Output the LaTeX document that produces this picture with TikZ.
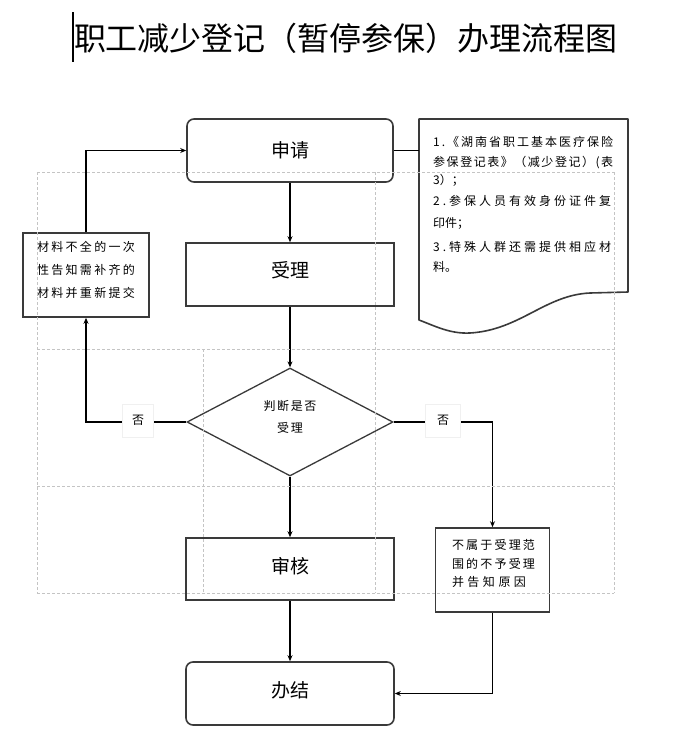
\documentclass[tikz,border=0pt]{standalone}
\usepackage{fontspec}
\setmainfont{Noto Sans CJK SC}
\usetikzlibrary{arrows.meta,shapes.geometric}
\definecolor{boxc}{HTML}{3A3A3A}
\definecolor{gridc}{HTML}{C4C4C4}
\makeatletter
\def\jl@end{\jl@end}
\def\jl@loop#1{\ifx#1\jl@end\else\hfil#1\expandafter\jl@loop\fi}
\def\jl@first#1{#1\jl@loop}
\newcommand\jline[2]{\makebox[#1][s]{\jl@first#2\jl@end}}
\makeatother
\tikzset{
  box/.style={draw=boxc, line width=1.6pt, inner sep=0pt},
  rbox/.style={box, rounded corners=7pt},
  conn/.style={line width=1.6pt, draw=black},
  arr/.style={conn, -{Stealth[length=6pt,width=5pt]}},
  gridline/.style={draw=gridc, line width=0.6pt, dash pattern=on 3pt off 2pt},
  small/.style={font=\fontsize{12}{14}\selectfont, inner sep=0pt},
  big/.style={font=\fontsize{19}{21}\selectfont, inner sep=0pt},
  nolab/.style={fill=white, draw=gray!12, line width=0.5pt, inner sep=0pt, font=\fontsize{12}{14}\selectfont},
}
\begin{document}
\begin{tikzpicture}[x=1pt,y=-1pt]
\useasboundingbox (0,0) rectangle (675,740);

% title and cursor
\node[font=\fontsize{32}{34}\selectfont, inner sep=0pt] (title) at (346,38) {职工减少登记（暂停参保）办理流程图};
\coordinate (curtop) at (73,12);
\coordinate (curbot) at (73,62);
\draw[line width=1.4pt] (curtop) -- (curbot);

% main boxes
\node[rbox, minimum width=206pt, minimum height=63pt] (apply) at (290,150.5) {};
\node[big] (applyt) at (290,150) {申请};
\node[box, minimum width=208pt, minimum height=63pt] (accept) at (290,274.5) {};
\node[big] (acceptt) at (290,270) {受理};
\node[draw=boxc, line width=1.3pt, shape=diamond, minimum width=206pt, minimum height=108pt, inner sep=0pt] (judge) at (290,422) {};
\node[font=\fontsize{12}{22}\selectfont, inner sep=0pt, align=center] (judget) at (290,417) {\jline{53pt}{判断是否}\\\jline{26pt}{受理}};
\node[box, minimum width=208pt, minimum height=62pt] (audit) at (290,569) {};
\node[big] (auditt) at (290,566) {审核};
\node[rbox, minimum width=208pt, minimum height=63pt] (done) at (290,693.5) {};
\node[big] (donet) at (290,690) {办结};

% side boxes
\node[box, minimum width=126pt, minimum height=84pt] (lack) at (86,275) {};
\node[font=\fontsize{12}{23}\selectfont, inner sep=0pt, align=left] (lackt) at (86,270) {\jline{98pt}{材料不全的一次}\\\jline{98pt}{性告知需补齐的}\\\jline{98pt}{材料并重新提交}};
\node[box, minimum width=114pt, minimum height=84pt] (reject) at (492.5,570) {};
\node[font=\fontsize{12}{18.5}\selectfont, inner sep=0pt, align=left] (rejectt) at (493.5,563.5) {\jline{83pt}{不属于受理范}\\\jline{83pt}{围的不予受理}\\\jline{74pt}{并告知原因}};

% document shape
\draw[draw=boxc, line width=1.6pt, line join=round]
  (419,119) -- (628,119) -- (628,292) -- (590,293)
  .. controls (545,295) and (520,330) .. (470,333)
  .. controls (450,334) and (435,326) .. (419,320) -- cycle;
\coordinate (docw) at (419,150.5);
\node[small, anchor=west] (d1) at (433,142) {\jline{180pt}{1.《湖南省职工基本医疗保险}};
\node[small, anchor=west] (d2) at (433,163) {\jline{180pt}{参保登记表》（减少登记）(表}};
\node[small, anchor=west] (d3) at (433,180) {\jline{26pt}{3）；}};
\node[small, anchor=west] (d4) at (433,201) {\jline{178pt}{2.参保人员有效身份证件复}};
\node[small, anchor=west] (d5) at (433,223) {\jline{34pt}{印件；}};
\node[small, anchor=west] (d6) at (433,247) {\jline{178pt}{3.特殊人群还需提供相应材}};
\node[small, anchor=west] (d7) at (433,267) {\jline{24pt}{料。}};

% connectors
\draw[conn] (apply.east) -- (docw);
\draw[arr] (apply.south) -- (accept.north);
\draw[arr] (accept.south) -- (judge.north);
\draw[arr] (judge.south) -- (audit.north);
\draw[arr] (audit.south) -- (done.north);
\draw[arr] (judge.west) -| (lack.south);
\draw[arr] (lack.north) |- (apply.west);
\draw[arr] (judge.east) -| (reject.north);
\draw[arr] (reject.south) |- (done.east);

% labels
\node[nolab, minimum width=31pt, minimum height=33pt] (no1) at (138,421) {\raisebox{2pt}{否}};
\node[nolab, minimum width=35pt, minimum height=33pt] (no2) at (443,421) {\raisebox{2pt}{否}};

% table grid (dashed)
\draw[gridline] (37,172) -- (614,172);
\draw[gridline] (37,349) -- (614,349);
\draw[gridline] (37,486) -- (614,486);
\draw[gridline] (37,593) -- (614,593);
\draw[gridline] (37,172) -- (37,593);
\draw[gridline] (375,172) -- (375,593);
\draw[gridline] (614,172) -- (614,593);
\draw[gridline] (203,349) -- (203,593);
\end{tikzpicture}
\end{document}
